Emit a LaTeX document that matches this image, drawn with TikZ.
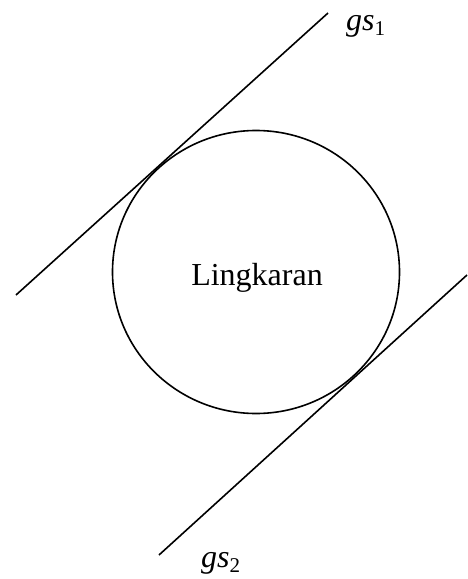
\documentclass[tikz,border=0pt]{standalone}
\usepackage{fontspec}
\setmainfont{Liberation Serif}
\usetikzlibrary{shapes.geometric}
\tikzset{
  stroke/.style={line width=1.6pt, black},
  bigtext/.style={font=\fontsize{32}{38}\selectfont, inner sep=0pt},
}
\newcommand{\gslabel}[1]{{\itshape gs}\raisebox{-5pt}{\fontsize{21}{21}\selectfont #1}}
\begin{document}
\begin{tikzpicture}[x=1pt,y=-1pt]
\useasboundingbox (0,0) rectangle (467,579);
\draw[stroke] (256,272) ellipse [x radius=143.5, y radius=141.5];
\node[bigtext, anchor=base] (lk) at (257,285) {Lingkaran};
\coordinate (a1) at (16,295);
\coordinate (b1) at (328,13);
\coordinate (a2) at (159,555);
\coordinate (b2) at (467,275);
\draw[stroke] (a1) -- (b1);
\draw[stroke] (a2) -- (b2);
\node[bigtext, anchor=base west] (g1) at (346,30) {\gslabel{1}};
\node[bigtext, anchor=base west] (g2) at (201,567) {\gslabel{2}};
\end{tikzpicture}
\end{document}
